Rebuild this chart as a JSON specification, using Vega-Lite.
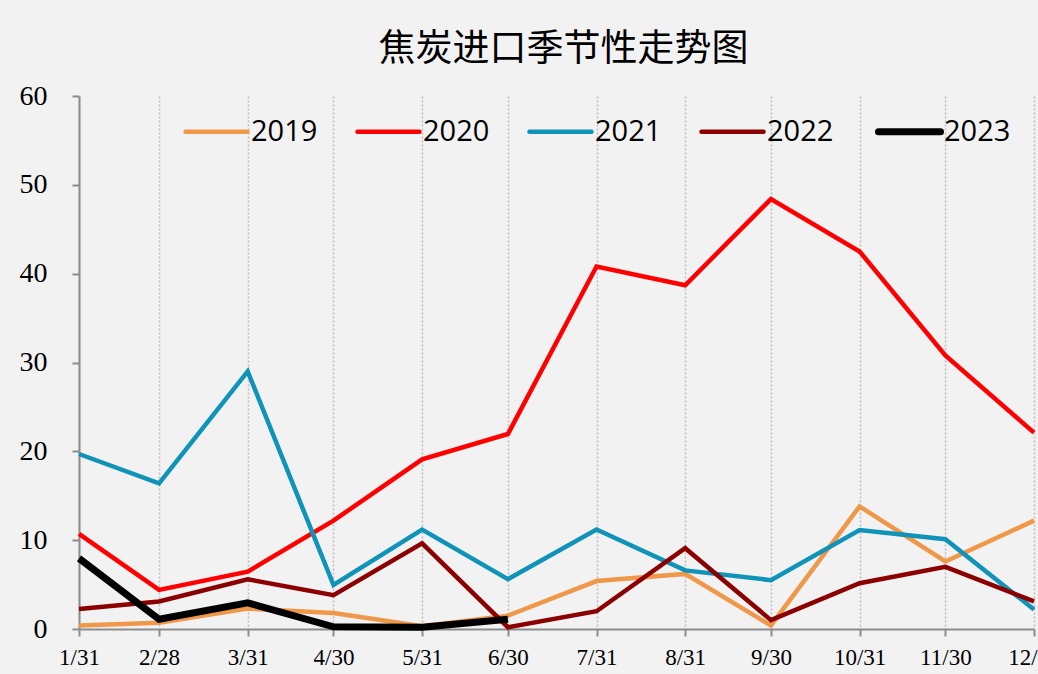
{
  "$schema": "https://vega.github.io/schema/vega-lite/v6.json",
  "autosize": "none",
  "width": 955,
  "height": 533,
  "padding": {"left": 79, "top": 96, "right": 4, "bottom": 45},
  "background": "#f2f2f2",
  "title": {
    "text": "焦炭进口季节性走势图",
    "font": "Noto Sans CJK SC",
    "fontSize": 37,
    "fontWeight": "normal",
    "color": "#000000",
    "anchor": "middle",
    "frame": "group",
    "offset": 13,
    "dx": 7
  },
  "data": {
    "values": [
      {"date": "2023/01/31", "year": "2019", "value": 0.4},
      {"date": "2023/02/28", "year": "2019", "value": 0.7},
      {"date": "2023/03/31", "year": "2019", "value": 2.3},
      {"date": "2023/04/30", "year": "2019", "value": 1.8},
      {"date": "2023/05/31", "year": "2019", "value": 0.3},
      {"date": "2023/06/30", "year": "2019", "value": 1.5},
      {"date": "2023/07/31", "year": "2019", "value": 5.4},
      {"date": "2023/08/31", "year": "2019", "value": 6.2},
      {"date": "2023/09/30", "year": "2019", "value": 0.4},
      {"date": "2023/10/31", "year": "2019", "value": 13.8},
      {"date": "2023/11/30", "year": "2019", "value": 7.6},
      {"date": "2023/12/31", "year": "2019", "value": 12.2},
      {"date": "2023/01/31", "year": "2020", "value": 10.7},
      {"date": "2023/02/28", "year": "2020", "value": 4.4},
      {"date": "2023/03/31", "year": "2020", "value": 6.45},
      {"date": "2023/04/30", "year": "2020", "value": 12.2},
      {"date": "2023/05/31", "year": "2020", "value": 19.1},
      {"date": "2023/06/30", "year": "2020", "value": 21.95},
      {"date": "2023/07/31", "year": "2020", "value": 40.8},
      {"date": "2023/08/31", "year": "2020", "value": 38.7},
      {"date": "2023/09/30", "year": "2020", "value": 48.4},
      {"date": "2023/10/31", "year": "2020", "value": 42.5},
      {"date": "2023/11/30", "year": "2020", "value": 30.8},
      {"date": "2023/12/31", "year": "2020", "value": 22.1},
      {"date": "2023/01/31", "year": "2021", "value": 19.7},
      {"date": "2023/02/28", "year": "2021", "value": 16.4},
      {"date": "2023/03/31", "year": "2021", "value": 29.0},
      {"date": "2023/04/30", "year": "2021", "value": 4.95},
      {"date": "2023/05/31", "year": "2021", "value": 11.2},
      {"date": "2023/06/30", "year": "2021", "value": 5.6},
      {"date": "2023/07/31", "year": "2021", "value": 11.2},
      {"date": "2023/08/31", "year": "2021", "value": 6.6},
      {"date": "2023/09/30", "year": "2021", "value": 5.5},
      {"date": "2023/10/31", "year": "2021", "value": 11.15},
      {"date": "2023/11/30", "year": "2021", "value": 10.1},
      {"date": "2023/12/31", "year": "2021", "value": 2.2},
      {"date": "2023/01/31", "year": "2022", "value": 2.25},
      {"date": "2023/02/28", "year": "2022", "value": 3.1},
      {"date": "2023/03/31", "year": "2022", "value": 5.6},
      {"date": "2023/04/30", "year": "2022", "value": 3.8},
      {"date": "2023/05/31", "year": "2022", "value": 9.65},
      {"date": "2023/06/30", "year": "2022", "value": 0.2},
      {"date": "2023/07/31", "year": "2022", "value": 2.0},
      {"date": "2023/08/31", "year": "2022", "value": 9.1},
      {"date": "2023/09/30", "year": "2022", "value": 1.0},
      {"date": "2023/10/31", "year": "2022", "value": 5.15},
      {"date": "2023/11/30", "year": "2022", "value": 7.0},
      {"date": "2023/12/31", "year": "2022", "value": 3.1},
      {"date": "2023/01/31", "year": "2023", "value": 7.95},
      {"date": "2023/02/28", "year": "2023", "value": 1.1},
      {"date": "2023/03/31", "year": "2023", "value": 2.95},
      {"date": "2023/04/30", "year": "2023", "value": 0.25},
      {"date": "2023/05/31", "year": "2023", "value": 0.2},
      {"date": "2023/06/30", "year": "2023", "value": 1.1}
    ]
  },
  "mark": {"type": "line", "strokeJoin": "miter", "clip": false},
  "encoding": {
    "x": {
      "field": "date",
      "type": "temporal",
      "scale": {
        "domain": [{"year": 2023, "month": 1, "date": 31}, {"year": 2023, "month": 12, "date": 31}],
        "nice": false
      },
      "axis": {
        "title": null,
        "values": [
          {"year": 2023, "month": 1, "date": 31},
          {"year": 2023, "month": 2, "date": 28},
          {"year": 2023, "month": 3, "date": 31},
          {"year": 2023, "month": 4, "date": 30},
          {"year": 2023, "month": 5, "date": 31},
          {"year": 2023, "month": 6, "date": 30},
          {"year": 2023, "month": 7, "date": 31},
          {"year": 2023, "month": 8, "date": 31},
          {"year": 2023, "month": 9, "date": 30},
          {"year": 2023, "month": 10, "date": 31},
          {"year": 2023, "month": 11, "date": 30},
          {"year": 2023, "month": 12, "date": 31}
        ],
        "format": "%-m/%-d",
        "labelFont": "Liberation Serif",
        "labelFontSize": 23,
        "labelColor": "#000000",
        "labelPadding": 10,
        "labelFlush": false,
        "labelOverlap": false,
        "labelBound": false,
        "domainColor": "#8c8c8c",
        "domainWidth": 2,
        "tickColor": "#8c8c8c",
        "tickWidth": 2,
        "tickSize": 7,
        "grid": true,
        "gridColor": "#bdbdbd",
        "gridDash": [2, 2],
        "gridWidth": 1.5
      }
    },
    "y": {
      "field": "value",
      "type": "quantitative",
      "scale": {"domain": [0, 60], "nice": false},
      "axis": {
        "title": null,
        "values": [0, 10, 20, 30, 40, 50, 60],
        "grid": false,
        "labelFont": "Liberation Serif",
        "labelFontSize": 28,
        "labelColor": "#000000",
        "labelPadding": 25,
        "domainColor": "#8c8c8c",
        "domainWidth": 2,
        "tickColor": "#8c8c8c",
        "tickWidth": 2,
        "tickSize": 7
      }
    },
    "color": {
      "field": "year",
      "type": "nominal",
      "scale": {
        "domain": ["2019", "2020", "2021", "2022", "2023"],
        "range": ["#F0984A", "#FF0000", "#1093B8", "#8B0000", "#000000"]
      },
      "legend": {
        "title": null,
        "orient": "none",
        "legendX": 123,
        "legendY": 21,
        "direction": "horizontal",
        "columns": 5,
        "columnPadding": 30,
        "symbolType": "stroke",
        "symbolSize": 3844,
        "labelFont": "Open Sans",
        "labelFontSize": 29,
        "labelColor": "#000000",
        "labelOffset": 20,
        "encode": {
          "symbols": {
            "update": {
              "strokeCap": {"value": "round"},
              "strokeWidth": {"signal": "datum.value === '2023' ? 7 : 4.5"}
            }
          }
        }
      }
    },
    "strokeWidth": {
      "condition": {"test": "datum.year === '2023'", "value": 7},
      "value": 4.5
    }
  },
  "config": {
    "view": {"stroke": null}
  }
}
